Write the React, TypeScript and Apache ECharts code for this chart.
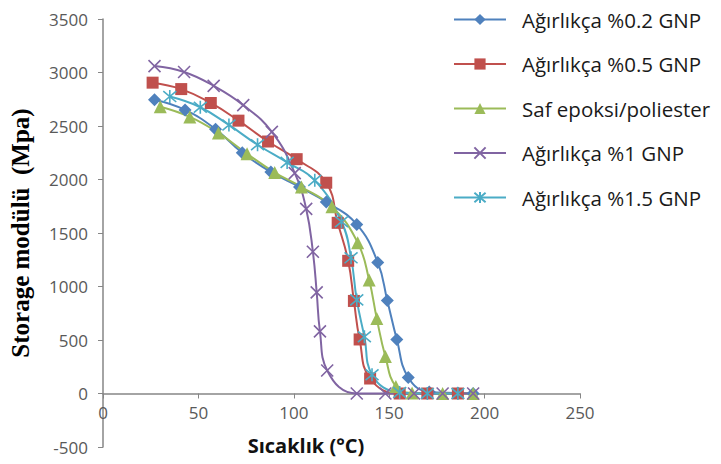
import React, { useEffect, useRef } from "react";
import * as echarts from "echarts";

// Temperature (°C) and storage modulus (MPa) per series
const seriesNames = [
  "Ağırlıkça %0.2 GNP",
  "Ağırlıkça %0.5 GNP",
  "Saf epoksi/poliester",
  "Ağırlıkça %1 GNP",
  "Ağırlıkça %1.5 GNP",
];

const temp02 = [27, 43, 59, 73, 88, 103, 117, 133, 144, 149, 154, 160, 171, 186, 194];
const mod02 = [2745, 2650, 2470, 2250, 2070, 1930, 1790, 1580, 1225, 870, 505, 150, 15, 5, 0];

const temp05 = [26, 41, 56.5, 71, 86.5, 101.5, 117, 123, 128.5, 131.5, 134.5, 140, 155.5, 170, 186];
const mod05 = [2905, 2845, 2715, 2550, 2355, 2190, 1970, 1595, 1240, 865, 505, 140, 0, 0, 0];

const tempSaf = [30, 45.5, 60.5, 75.5, 90, 104, 120, 133.5, 139.5, 143.5, 148, 153.5, 162, 178, 194];
const modSaf = [2680, 2585, 2435, 2240, 2065, 1930, 1745, 1410, 1060, 700, 345, 65, 5, 0, 0];

const temp1 = [27, 42.5, 58, 73.5, 88.5, 100.5, 106.5, 110, 112, 113.7, 117.5, 133, 148, 163, 178, 194];
const mod1 = [3060, 3005, 2875, 2695, 2445, 2060, 1725, 1325, 945, 580, 215, 0, 0, 0, 0, 0];

const temp15 = [35, 51, 66, 81, 96.5, 111, 125, 130, 133, 137, 141, 155.5, 170, 186];
const mod15 = [2775, 2675, 2510, 2325, 2160, 1992, 1605, 1268, 875, 530, 175, 10, 0, 0];

const xTicks = { min: 0, max: 250, interval: 50 };
const yTicks = { min: -500, max: 3500, interval: 500 };

const colors = ["#4F81BD", "#C0504D", "#9BBB59", "#8064A2", "#4BACC6"];

const pair = (xs: number[], ys: number[]) => xs.map((x, i) => [x, ys[i]]);

const GRID_TOP = 19;
const GRID_BOTTOM = 17;
const CHART_H = 464;

export default function App() {
  const ref = useRef<HTMLDivElement>(null);
  useEffect(() => {
    const chart = echarts.init(ref.current!, null, { renderer: "svg" });
    const sans = "Open Sans";
    // shift x axis up so that it sits on y = 0 (the x axis crosses at zero)
    const plotH = CHART_H - GRID_TOP - GRID_BOTTOM;
    const zeroOffset = -((0 - yTicks.min) / (yTicks.max - yTicks.min)) * plotH;
    const base = (name: string, color: string, data: number[][], symbol: string, size: number, stroke?: boolean) => ({
      type: "line",
      name,
      data,
      smooth: 0.45,
      symbol,
      symbolSize: size,
      showSymbol: true,
      lineStyle: { color, width: 2 },
      itemStyle: stroke
        ? { color, borderColor: color, borderWidth: 1.6 }
        : { color },
      z: 2,
    });
    chart.setOption({
      animation: false,
      backgroundColor: "#fff",
      grid: { left: 103, right: 141, top: GRID_TOP, bottom: GRID_BOTTOM, containLabel: false, outerBoundsMode: "none" },
      legend: {
        orient: "vertical",
        left: 448,
        top: 4,
        itemWidth: 52,
        itemHeight: 14,
        itemGap: 23.5,
        textStyle: { fontFamily: sans, fontSize: 20.5, color: "#1a1a1a", padding: [0, 0, 0, 11] },
        data: seriesNames,
      },
      xAxis: {
        type: "value",
        ...xTicks,
        offset: zeroOffset,
        name: "Sıcaklık (°C)",
        nameLocation: "middle",
        nameGap: 42,
        nameTextStyle: { fontFamily: sans, fontWeight: "bold", fontSize: 20, color: "#111", padding: [0, 71, 0, 0] },
        axisLine: { show: true, onZero: false, lineStyle: { color: "#868686", width: 1.5 } },
        axisTick: { show: true, inside: false, length: 5, lineStyle: { color: "#868686" } },
        axisLabel: { fontFamily: sans, fontSize: 17, color: "#595959", margin: 10 },
        splitLine: { show: false },
      },
      yAxis: {
        type: "value",
        ...yTicks,
        name: "Storage modülü  (Mpa)",
        nameLocation: "middle",
        nameRotate: 90,
        nameGap: 70,
        nameTextStyle: { fontFamily: "Liberation Serif", fontWeight: "bold", fontSize: 25, color: "#000" },
        axisLine: { show: true, onZero: false, lineStyle: { color: "#868686", width: 1.5 } },
        axisTick: { show: true, inside: false, length: 5, lineStyle: { color: "#868686" } },
        axisLabel: { fontFamily: sans, fontSize: 17, color: "#595959", margin: 15, formatter: (v: number) => String(v) },
        splitLine: { show: false },
      },
      series: [
        base(seriesNames[0], colors[0], pair(temp02, mod02), "diamond", 13),
        base(seriesNames[1], colors[1], pair(temp05, mod05), "rect", 12),
        base(seriesNames[2], colors[2], pair(tempSaf, modSaf), "triangle", 13),
        base(seriesNames[3], colors[3], pair(temp1, mod1), "path://M0 0L10 10M10 0L0 10", 12, true),
        base(seriesNames[4], colors[4], pair(temp15, mod15), "path://M0 0L10 10M10 0L0 10M5 -1L5 11", 13, true),
      ],
    });
    return () => chart.dispose();
  }, []);
  return (
    <div
      ref={ref}
      style={{ position: "fixed", left: 0, top: 0, width: 721, height: 464, background: "#fff" }}
    />
  );
}
